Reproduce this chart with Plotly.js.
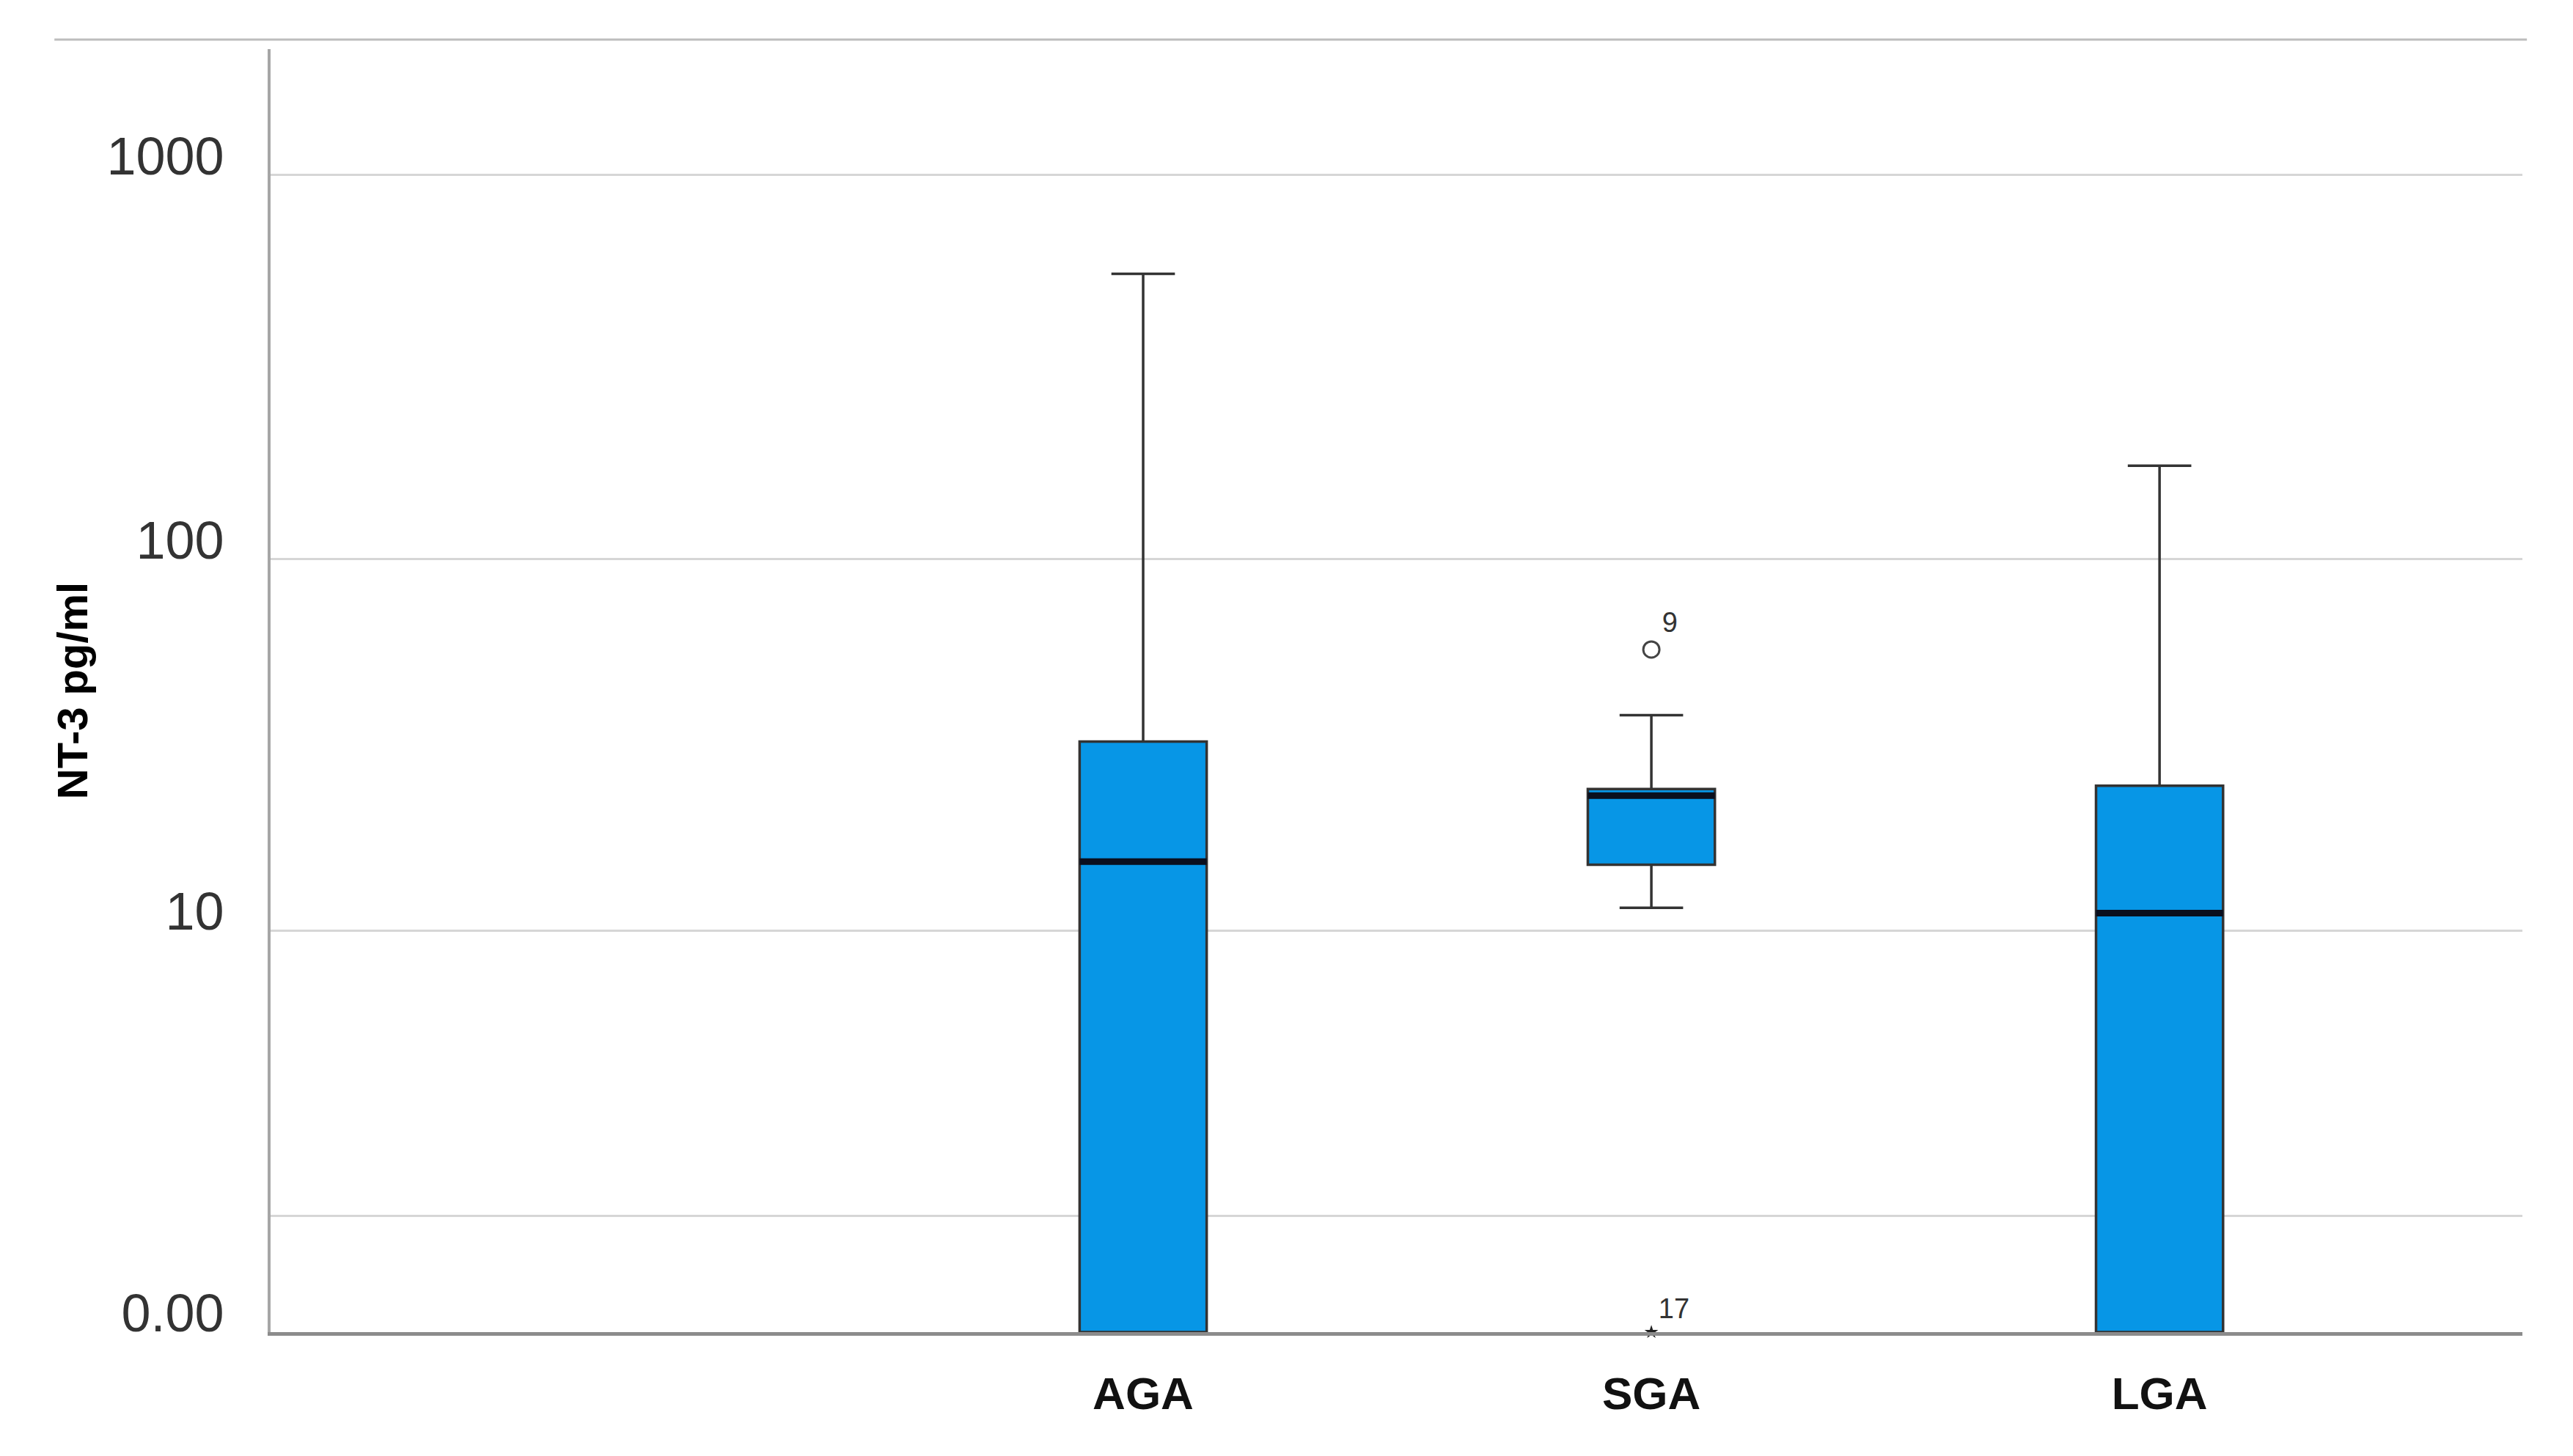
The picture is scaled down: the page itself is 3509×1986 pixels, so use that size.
<!DOCTYPE html>
<html>
<head>
<meta charset="utf-8">
<script src="https://cdn.plot.ly/plotly-3.0.1.min.js"></script>
<style>html,body{margin:0;padding:0;background:#fff;}</style>
</head>
<body>
<div id="chart" style="width:3509px;height:1986px;"></div>
<script>
// ---- data (NT-3 pg/ml) ----
const categories = ['', 'AGA', 'SGA', 'LGA'];
const groups = ['AGA', 'SGA', 'LGA'];
const lowerWhisker = [0, 11.6, 0];
const q1Values = [0, 15.3, 0];
const medianValues = [15.6, 23.6, 11.2];
const q3Values = [33.0, 24.6, 25.1];
const upperWhisker = [554, 38.8, 175.5];
const outlierGroup = ['SGA'];
const outlierValue = [57.9];
const outlierLabel = ['9'];
const extremeGroup = ['SGA'];
const extremeValue = [0];
const extremeLabel = ['17'];
const yTickValues = [0, 1, 10, 100, 1000];
const yTickText = ['0.00', '', '10', '100', '1000'];

// axis uses a log10(x+1) scale (like the original)
const tf = v => Math.log10(v + 1);
const pos = g => categories.indexOf(g);

const xs = groups.map(pos);
const font = 'Liberation Sans, Arial, sans-serif';

const boxTrace = {
  type: 'box',
  x: xs,
  q1: q1Values.map(tf),
  median: medianValues.map(tf),
  q3: q3Values.map(tf),
  lowerfence: lowerWhisker.map(tf),
  upperfence: upperWhisker.map(tf),
  width: 0.25,
  whiskerwidth: 0.5,
  fillcolor: '#0796E6',
  line: {color: '#333333', width: 3.5},
  boxpoints: false,
  hoverinfo: 'skip',
  showlegend: false
};

const medianTrace = {
  type: 'box',
  x: xs,
  q1: medianValues.map(tf),
  median: medianValues.map(tf),
  q3: medianValues.map(tf),
  lowerfence: medianValues.map(tf),
  upperfence: medianValues.map(tf),
  width: 0.25,
  whiskerwidth: 0,
  fillcolor: 'rgba(0,0,0,0)',
  line: {color: '#0a0f1e', width: 9},
  boxpoints: false,
  hoverinfo: 'skip',
  showlegend: false
};

const outlierTrace = {
  type: 'scatter',
  mode: 'markers+text',
  x: outlierGroup.map(pos),
  y: outlierValue.map(tf),
  text: outlierLabel,
  textposition: 'top right',
  textfont: {family: font, size: 38, color: '#333'},
  marker: {symbol: 'circle-open', size: 22, color: '#444', line: {width: 3, color: '#444'}},
  hoverinfo: 'skip',
  showlegend: false,
  cliponaxis: false
};

const extremeTrace = {
  type: 'scatter',
  mode: 'markers+text',
  x: extremeGroup.map(pos),
  y: extremeValue.map(tf),
  text: extremeLabel,
  textposition: 'top right',
  textfont: {family: font, size: 38, color: '#333'},
  marker: {symbol: 'star', size: 14, color: '#222'},
  hoverinfo: 'skip',
  showlegend: false,
  cliponaxis: false
};

const layout = {
  width: 3509,
  height: 1986,
  margin: {l: 369, r: 69, t: 67, b: 169},
  paper_bgcolor: '#ffffff',
  plot_bgcolor: '#ffffff',
  showlegend: false,
  boxmode: 'overlay',
  xaxis: {
    type: 'linear',
    range: [-0.717, 3.714],
    tickvals: categories.map((c, i) => i),
    ticktext: categories,
    showgrid: false,
    zeroline: false,
    showline: true,
    linecolor: '#8c8c8c',
    linewidth: 5,
    ticks: '',
    ticklabelstandoff: 26,
    tickfont: {family: font, size: 62, color: '#111', weight: 'bold'}
  },
  yaxis: {
    type: 'linear',
    range: [0, 3.327],
    tickvals: yTickValues.map(tf),
    ticktext: yTickText,
    showgrid: true,
    gridcolor: '#d6d6d6',
    gridwidth: 3,
    zeroline: false,
    showline: true,
    linecolor: '#a6a6a6',
    linewidth: 4,
    ticks: '',
    ticklabelshift: -26,
    ticklabelstandoff: 45,
    tickfont: {family: font, size: 72, color: '#333'},
    title: {
      text: 'NT-3 pg/ml',
      standoff: 8,
      font: {family: font, size: 58, color: '#000', weight: 'bold'}
    }
  },
  shapes: [{
    type: 'line', xref: 'paper', yref: 'paper',
    x0: -0.096, x1: 1.002, y0: 1.0074, y1: 1.0074,
    line: {color: '#bdbdbd', width: 3}
  }]
};

Plotly.newPlot('chart', [boxTrace, medianTrace, outlierTrace, extremeTrace], layout, {staticPlot: true, displayModeBar: false});
</script>
</body>
</html>
